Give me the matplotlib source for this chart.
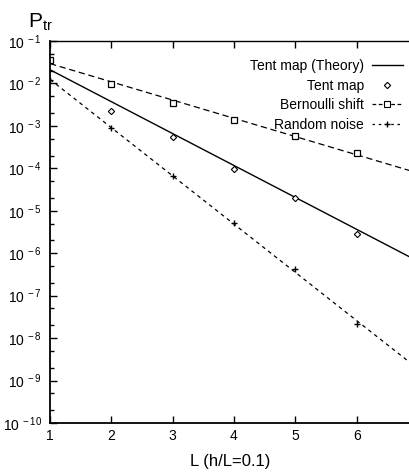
import numpy as np
import matplotlib
matplotlib.use("Agg")
import matplotlib.pyplot as plt
from matplotlib.ticker import LogLocator, FuncFormatter

plt.rcParams['font.family'] = ['Liberation Sans', 'DejaVu Sans']

#------------------------------------------------------------------------
#                               Data
#------------------------------------------------------------------------
L = [1, 2, 3, 4, 5, 6]

# theory line end points (straight in log scale)
theory_L = [1, 6.87]
theory_P = [2.1e-2, 8.1e-7]

tent_L = [2, 3, 4, 5, 6]
tent_P = [2.3e-3, 5.5e-4, 9.5e-5, 2.0e-5, 2.9e-6]

bern_P = [3.6e-2, 9.7e-3, 3.5e-3, 1.4e-3, 5.8e-4, 2.3e-4]
noise_P = [1.2e-2, 8.9e-4, 6.6e-5, 5.1e-6, 4.2e-7, 2.2e-8]

xticks = [1, 2, 3, 4, 5, 6]

#------------------------------------------------------------------------
#                               Fits
#------------------------------------------------------------------------
x_fit = np.array([1, 6.87])
b_coef = np.polyfit(L, np.log10(bern_P), 1)
n_coef = np.polyfit(L, np.log10(noise_P), 1)

#------------------------------------------------------------------------
#                               Plot
#------------------------------------------------------------------------
fig = plt.figure(figsize=(4.10, 4.75), dpi=100)
ax = fig.add_axes([0.122, 0.1095, 0.878, 0.8042])

ax.plot(theory_L, theory_P, color='k', lw=1.0, label='Tent map (Theory)')
ax.plot(tent_L, tent_P, ls='none', marker='D', ms=3.2, mfc='white', mec='k',
        mew=0.8, label='Tent map')
ax.plot(x_fit, 10**np.polyval(b_coef, x_fit), color='k', lw=0.9, ls=(0, (5, 3)))
ax.plot(L, bern_P, ls='none', marker='s', ms=5, mfc='white', mec='k', mew=0.9)
ax.plot(x_fit, 10**np.polyval(n_coef, x_fit), color='k', lw=0.9, ls=(0, (3, 3)))
ax.plot(L, noise_P, ls='none', marker='+', ms=4, mec='k', mew=1.0)

# legend handles
ax.plot([], [], color='k', lw=0.9, ls=(0, (3, 2)), marker='s', ms=4,
        mfc='white', mew=0.8, label='Bernoulli shift')
ax.plot([], [], color='k', lw=0.9, ls=(0, (2, 3)), marker='+', ms=4,
        label='Random noise')

ax.set_yscale('log')
ax.set_xlim(1, 6.87)
ax.set_ylim(1e-10, 1e-1)
ax.set_xticks(xticks)
ax.set_yticks([10.0**(-k) for k in range(1, 11)])
ax.yaxis.set_minor_locator(LogLocator(base=10, subs=(2, 5), numticks=30))
ax.yaxis.set_major_formatter(FuncFormatter(
    lambda v, p: r'$\mathregular{10^{\,%d}}$' % round(np.log10(v))))
ax.tick_params(axis='both', which='both', direction='in', top=True,
               right=False, labelsize=10, width=1.0)
ax.tick_params(axis='both', which='major', length=5)
ax.tick_params(axis='y', which='minor', length=3)
ax.tick_params(axis='y', pad=6)
ax.tick_params(axis='x', pad=4)
ax.spines['right'].set_visible(False)
ax.spines['left'].set_linewidth(1.3)
ax.spines['bottom'].set_linewidth(1.3)
ax.spines['top'].set_linewidth(1.0)

leg = ax.legend(loc='upper right', markerfirst=False, frameon=False,
                fontsize=10, handlelength=2.2, handletextpad=0.6,
                labelspacing=0.4, borderaxespad=0.9, bbox_to_anchor=(1.03, 1.0))
for t in leg.get_texts():
    t.set_ha('right')

fig.text(28 / 410, 1 - 28 / 475, r'$\mathregular{P_{tr}}$', fontsize=15,
         ha='left', va='baseline')
ax.set_xlabel('L (h/L=0.1)', fontsize=12, labelpad=8)

fig.savefig('out.png', dpi=100)
